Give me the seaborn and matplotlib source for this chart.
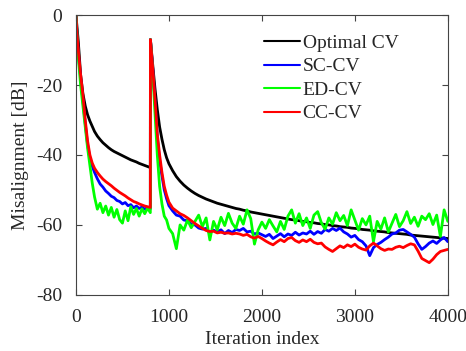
import numpy as np
import pandas as pd
from matplotlib import pyplot as plt
import seaborn as sns

# iteration grid (filter reset at ~800)
iters = ([0, 10, 25, 50, 75, 100, 125, 150, 175]
         + list(range(200, 801, 30))
         + [801, 825, 850, 875, 900, 925, 950, 975, 1000]
         + list(range(1040, 4001, 40)))

optimal_cv = [0, -3, -7.5, -17, -22.5, -26, -28.5, -30.3, -31.8,
              -33.3, -34.6, -35.6, -36.5, -37.2, -37.9, -38.5, -39.0, -39.4, -39.8, -40.2,
              -40.6, -41.0, -41.4, -41.7, -42.0, -42.4, -42.7, -43.0, -43.3, -43.6,
              -7, -14, -21, -27, -32, -35.5, -38.5, -40.8, -42.5,
              -44.5, -46.2, -47.5, -48.6, -49.5, -50.3, -51.0, -51.6, -52.1, -52.6,
              -53.0, -53.4, -53.8, -54.1, -54.4, -54.7, -55.0, -55.3, -55.5, -55.8,
              -56.0, -56.3, -56.5, -56.7, -56.9, -57.1, -57.3, -57.5, -57.7, -57.9,
              -58.1, -58.3, -58.5, -58.6, -58.8, -59.0, -59.1, -59.3, -59.4, -59.6,
              -59.7, -59.9, -60.0, -60.2, -60.3, -60.5, -60.6, -60.7, -60.9, -61.0,
              -61.1, -61.3, -61.4, -61.5, -61.7, -61.8, -61.9, -62.0, -62.2, -62.3,
              -62.4, -62.5, -62.6, -62.7, -62.9, -63.0, -63.1, -63.2, -63.3, -63.4,
              -63.5, -63.6, -63.7, -63.8, -63.9]

sc_cv = [0, -5, -11, -18, -24.5, -31, -37, -41, -43.2,
         -45, -46.8, -48.3, -49.2, -50.3, -51.0, -51.8, -52.2, -53.0, -53.3, -54.0,
         -53.6, -54.5, -54.2, -55.1, -54.6, -55.3, -54.9, -55.5, -55.0, -55.4,
         -7, -15, -24.5, -35, -41.5, -46, -50, -52.5, -54.5,
         -56.0, -57.2, -57.5, -58.6, -58.8, -59.8, -60.0, -60.9, -61.2, -61.0,
         -62.2, -61.5, -62.0, -61.4, -62.5, -61.6, -62.2, -61.3, -61.6, -61.0,
         -62.0, -61.8, -62.6, -62.3, -62.8, -63.3, -62.7, -63.9, -63.2, -62.5,
         -63.4, -62.6, -63.0, -62.1, -62.9, -62.3, -62.6, -61.8, -62.7, -61.9,
         -62.4, -61.3, -61.8, -61.0, -61.6, -60.9, -62.0, -62.6, -63.5, -63.0,
         -64.2, -64.8, -66.0, -68.8, -66.5, -65.6, -65.0, -64.2, -63.5, -62.6,
         -62.3, -61.5, -61.3, -62.0, -62.7, -63.5, -65.4, -67.0, -66.2, -65.2,
         -64.6, -65.3, -64.3, -63.6, -64.8]

ed_cv = [0, -5, -12, -20, -26, -32, -38, -43, -48,
         -52, -55.5, -53.8, -56.5, -54.6, -57.2, -55.0, -57.8, -55.6, -58.5, -59.5,
         -56.0, -58.8, -54.8, -57.0, -55.3, -57.5, -55.4, -56.8, -55.2, -56.5,
         -7, -16, -28, -40, -49, -54, -57.5, -58.6, -61,
         -62.5, -66.8, -60.0, -61.5, -58.6, -60.8, -59.0, -57.2, -60.5, -58.0,
         -64.3, -59.0, -61.4, -57.8, -60.2, -56.7, -59.5, -61.0, -57.5, -59.8,
         -55.7, -58.2, -65.5, -61.4, -59.2, -61.0, -58.5, -60.3, -62.0, -59.0,
         -61.3, -57.5, -55.7, -59.5, -56.8, -60.2, -58.0, -61.0, -57.2, -56.2,
         -59.4, -61.2, -58.0, -59.8, -56.5, -58.8, -57.3, -60.2, -55.7, -58.6,
         -61.5, -58.2, -60.0, -57.5, -64.8, -59.0, -61.2, -58.0, -62.0, -59.5,
         -57.0, -60.5, -58.8, -56.2, -59.6, -57.8, -60.4, -57.5, -58.5, -56.8,
         -59.9, -57.2, -63.3, -55.7, -59.0]

cc_cv = [0, -5, -10, -17, -23, -30, -36, -40, -42.3,
         -43.8, -45, -46, -46.9, -47.6, -48.2, -48.8, -49.5, -50.1, -50.7, -51.2,
         -51.7, -52.3, -52.8, -53.3, -53.6, -54.0, -54.3, -54.6, -54.8, -55.0,
         -7, -15, -24, -34, -40, -45, -49, -51.5, -53.5,
         -55.2, -56.0, -56.8, -57.3, -58.0, -58.8, -59.6, -60.3, -61.0, -61.6,
         -61.9, -61.8, -62.3, -62.1, -62.4, -62.3, -62.6, -62.4, -62.6, -63.0,
         -62.7, -63.4, -63.8, -63.3, -63.9, -64.6, -65.2, -65.7, -64.9, -64.2,
         -64.8, -63.9, -63.6, -64.5, -65.0, -64.3, -64.8, -64.1, -65.0, -65.4,
         -65.2, -66.3, -67.0, -67.6, -66.8, -66.0, -66.5, -65.7, -66.2, -65.5,
         -66.4, -66.9, -67.2, -66.0, -65.2, -66.0, -66.8, -67.3, -66.9, -67.0,
         -66.4, -66.1, -66.5, -65.9, -65.4, -65.7, -67.5, -69.6, -70.2, -70.8,
         -69.8, -68.5, -67.6, -67.3, -67.0]

labels = ['Optimal CV', 'SC-CV', 'ED-CV', 'CC-CV']
colors = ['#000000', '#0000ff', '#00ff00', '#ff0000']

sns.set_style('ticks', {'xtick.direction': 'in', 'ytick.direction': 'in'})
plt.rcParams['font.family'] = ['Liberation Serif', 'DejaVu Serif']
plt.rcParams['axes.unicode_minus'] = False

fig, ax = plt.subplots(figsize=(4.66, 3.51), dpi=100)
fig.subplots_adjust(left=0.163, right=0.961, top=0.957, bottom=0.16)

for lab, vals, c in zip(labels, [optimal_cv, sc_cv, ed_cv, cc_cv], colors):
    sns.lineplot(x=iters, y=vals, ax=ax, color=c, label=lab, linewidth=2,
                 estimator=None, sort=False)

ax.set_xlim(0, 4000)
ax.set_ylim(-80, 0)
ax.set_xticks([0, 1000, 2000, 3000, 4000])
ax.set_yticks([-80, -60, -40, -20, 0])
ax.tick_params(labelsize=14, top=True, right=True, length=4, color='#444444')
ax.tick_params(axis='x', pad=10)
ax.tick_params(axis='y', pad=10)
for s in ax.spines.values():
    s.set_visible(True)
    s.set_color('#444444')
    s.set_linewidth(0.8)
ax.set_xlabel('Iteration index', fontsize=14, labelpad=4)
ax.set_ylabel('Misalignment [dB]', fontsize=14, labelpad=5)

leg = ax.legend(loc='upper left', frameon=False, fontsize=14,
                handlelength=1.85, handletextpad=0.15, labelspacing=0.3,
                borderaxespad=0, borderpad=0, bbox_to_anchor=(0.505, 0.931))
for h in leg.get_lines():
    h.set_linewidth(1.5)

fig.savefig('out.png', dpi=100)
